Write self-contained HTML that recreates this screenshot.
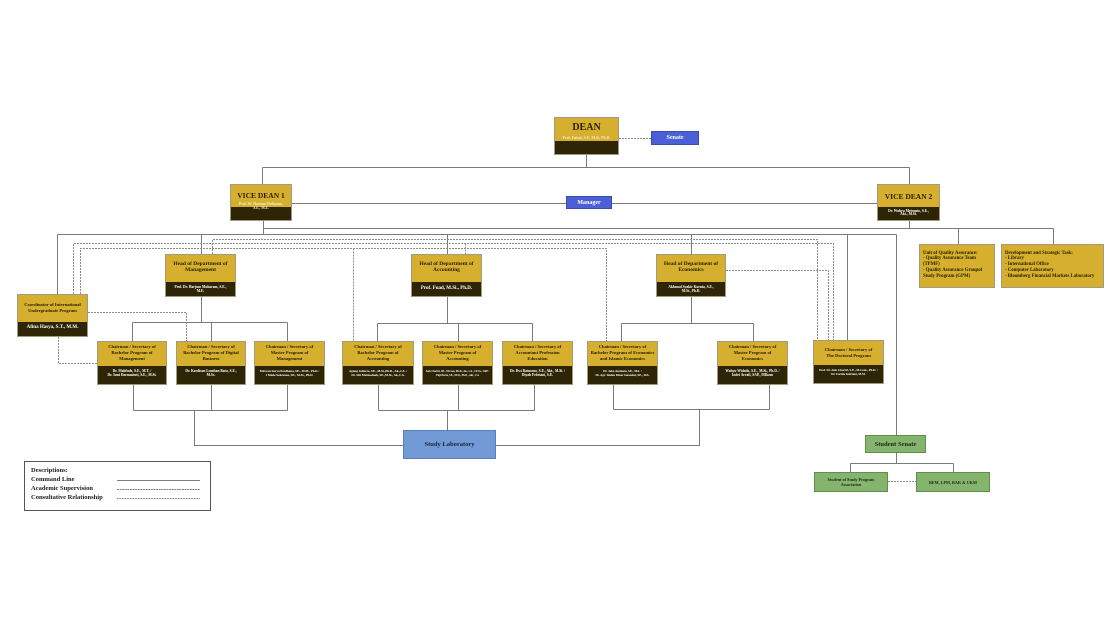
<!DOCTYPE html>
<html><head><meta charset="utf-8">
<style>
*{margin:0;padding:0;box-sizing:border-box}
body{width:1116px;height:628px;background:#fff;position:relative;overflow:hidden;font-family:"Liberation Serif","DejaVu Serif",serif;font-weight:bold}
svg{position:absolute;left:0;top:0}
.b{position:absolute;border:1px solid #a09a82}
.t{position:absolute;left:0;right:0;text-align:center;color:#2a2000;white-space:nowrap}
.n{position:absolute;left:0;right:0;text-align:center;color:#fff;white-space:nowrap}
.ch .t{top:2px;font-size:4.6px;line-height:5.8px}
.ch .n{top:26.6px;font-size:3.6px;line-height:4.8px}
.ch{top:341px;height:44px;width:71px;background:linear-gradient(#d5af2d 0 24px,#2e2507 24px)}
.hd{top:254px;height:43px;background:linear-gradient(#d5af2d 0 27px,#2e2507 27px)}
.hd .t{top:6px;font-size:5.5px;line-height:6px}
.hd .n{top:30px;font-size:3.6px;line-height:4px}
.bl{position:absolute;background:#4b5fd6;border:1px solid #3b4bb0;color:#fff;display:flex;align-items:center;justify-content:center;font-size:6px}
.gr{position:absolute;background:#84b46d;border:1px solid #5f8f4c;color:#1d2a10;display:flex;align-items:center;justify-content:center;text-align:center}
.q{position:absolute;background:#d5af2d;border:1px solid #a09a82;color:#2a2000;font-size:4.8px;line-height:5.8px;padding:5.5px 0 0 3px;white-space:nowrap}
</style></head><body>
<svg width="1116" height="628" viewBox="0 0 1116 628">
<g fill="none" stroke="#7a7a7a" stroke-width="1">
<path d="M586.5 155V167.5M262.5 167.5H909.5M262.5 167.5V184M909.5 167.5V184M292 203.5H566M612 203.5H877M263.5 221V234.5M263.5 228.5H1053.5M909.5 221V228.5M958.5 228.5V244M1053.5 228.5V244M57.5 234.5H896.5M57.5 234.5V294M201.5 234.5V254M447.5 234.5V254M691.5 234.5V254M847.5 234.5V340M896.5 234.5V435M201.5 297V322.5M132.5 322.5H287.5M132.5 322.5V341M211.5 322.5V341M287.5 322.5V341M133.5 385V410.5M211.5 385V410.5M287.5 385V410.5M133.5 410.5H287.5M194.5 410.5V445.5H403M447.5 297V323.5M377.5 323.5H532.5M377.5 323.5V341M458.5 323.5V341M532.5 323.5V341M378.5 385V410.5M458.5 385V410.5M534.5 385V410.5M378.5 410.5H534.5M447.5 410.5V430M691.5 297V323.5M621.5 323.5H753.5M621.5 323.5V341M753.5 323.5V341M613.5 385V409.5M769.5 385V409.5M613.5 409.5H769.5M699.5 409.5V445.5H496M896.5 453V463.5M850.5 463.5H953.5M850.5 463.5V472M953.5 463.5V472"/>
</g>
<g fill="none" stroke="#8c8c8c" stroke-width="1" stroke-dasharray="2,1">
<path d="M619 138.5H651M212.5 254V239.5H817.5V340M73.5 294V243.5H833.5V340M465.5 243.5V254M80.5 294V248.5H606.5V341M353.5 248.5V341M726 270.5H828.5V340M88 312.5H186.5V341M58.5 337V363.5H97M888 481.5H916"/>
</g>
<g fill="none" stroke="#555" stroke-width="0.8">
<path d="M117 480.5H200"/>
<path d="M117 489.5H200" stroke-dasharray="2,0.6"/>
<path d="M117 498.5H200" stroke-dasharray="1,0.6"/>
</g>
</svg>

<!-- DEAN -->
<div class="b" style="left:554px;top:117px;width:65px;height:38px;background:linear-gradient(#d5af2d 0 23px,#2e2507 23px)">
<div class="t" style="top:4px;font-size:10px;line-height:12px">DEAN</div>
<div class="n" style="top:17.5px;font-size:3.9px;line-height:5px;color:#f4ead0">Prof. Faisal, S.E, M.Si, Ph.D.</div>
</div>
<div class="bl" style="left:651px;top:131px;width:48px;height:14px">Senate</div>
<div class="bl" style="left:566px;top:196px;width:46px;height:13px">Manager</div>

<!-- VICE DEANS -->
<div class="b" style="left:230px;top:184px;width:62px;height:37px;background:linear-gradient(#d5af2d 0 22px,#2e2507 22px)">
<div class="t" style="top:5.5px;font-size:7.5px;line-height:9px">VICE DEAN 1</div>
<div class="n" style="top:16.5px;font-size:3.6px;line-height:4px;color:#f4ead0">Prof. Dr. Harjum Muharam,<br>S.E., M.E.</div>
</div>
<div class="b" style="left:877px;top:184px;width:63px;height:37px;background:linear-gradient(#d5af2d 0 22px,#2e2507 22px)">
<div class="t" style="top:6.5px;font-size:7.5px;line-height:9px">VICE DEAN 2</div>
<div class="n" style="top:24.5px;font-size:3.6px;line-height:3.8px">Dr. Wahyu Meiranto, S.E.,<br>Akt., M.Si.</div>
</div>

<div class="q" style="left:919px;top:244px;width:76px;height:44px">Unit of Quality Assurance:<br>- Quality Assurance Team<br>(TPMF)<br>- Quality Assurance Groupof<br>Study Program (GPM)</div>
<div class="q" style="left:1001px;top:244px;width:103px;height:44px">Development and Strategic Task:<br>- Library<br>- International Office<br>- Computer Laboratory<br>- Bloomberg Financial Markets Laboratory</div>

<!-- HEADS -->
<div class="b hd" style="left:165px;width:71px">
<div class="t">Head of Department of<br>Management</div>
<div class="n">Prof. Dr. Harjum Muharam, S.E.,<br>M.E.</div>
</div>
<div class="b hd" style="left:411px;width:71px">
<div class="t">Head of Department of<br>Accounting</div>
<div class="n" style="top:31px;font-size:5px;line-height:6px">Prof. Fuad, M.Si., Ph.D.</div>
</div>
<div class="b hd" style="left:656px;width:70px">
<div class="t">Head of Department of<br>Economics</div>
<div class="n">Akhmad Syakir Kurnia, S.E.,<br>M.Si., Ph.D.</div>
</div>

<!-- Coordinator -->
<div class="b" style="left:17px;top:294px;width:71px;height:43px;background:linear-gradient(#d5af2d 0 27px,#2e2507 27px)">
<div class="t" style="top:7px;font-size:4.6px;line-height:5.5px">Coordinator of International<br>Undergraduate Program</div>
<div class="n" style="top:30px;font-size:5px;line-height:6px">Afina Hasya, S.T., M.M.</div>
</div>

<!-- CHAIRMAN -->
<div class="b ch" style="left:97px;width:70px">
<div class="t">Chairman / Secretary of<br>Bachelor Program of<br>Management</div>
<div class="n">Dr. Mahfudz, S.E., M.T. /<br>Dr. Ismi Darmastuti, S.E., M.Si.</div>
</div>
<div class="b ch" style="left:176px;width:70px">
<div class="t">Chairman / Secretary of<br>Bachelor Program of Digital<br>Business</div>
<div class="n">Dr. Kardison Lumban Batu, S.E.,<br>M.Sc.</div>
</div>
<div class="b ch" style="left:254px">
<div class="t">Chairman / Secretary of<br>Master Program of<br>Management</div>
<div class="n" style="font-size:3.2px">Mirwan Surya Perdhana, SE., M.M., Ph.D /<br>I Made Sukresna, SE., M.Si., Ph.D.</div>
</div>
<div class="b ch" style="left:342px;width:72px">
<div class="t">Chairman / Secretary of<br>Bachelor Program of<br>Accounting</div>
<div class="n" style="font-size:3.2px">Agung Juliarto, SE., M.Si.,Ph.D., Ak.,CA. /<br>Dr. Siti Mutmainah, SE.,M.Si., Ak.,CA.</div>
</div>
<div class="b ch" style="left:422px">
<div class="t">Chairman / Secretary of<br>Master Program of<br>Accounting</div>
<div class="n" style="font-size:2.6px;line-height:3.6px;top:28px">Anis Chariri, SE., M.Com, Ph.D., Ak., CA., CFrA., CRP /<br>Puji Harto, SE., M.Si., Ph.D., Akt., CA</div>
</div>
<div class="b ch" style="left:502px">
<div class="t">Chairman / Secretary of<br>Accountant Profession<br>Education</div>
<div class="n">Dr. Dwi Ratmono, S.E., Akt., M.Si. /<br>Diyah Febriani, S.E.</div>
</div>
<div class="b ch" style="left:587px">
<div class="t">Chairman / Secretary of<br>Bachelor Program of Economics<br>and Islamic Economics</div>
<div class="n" style="font-size:3.1px">Dr. Jaka Aminata, SE., MA. /<br>Dr. Agr. Deden Dinar Iskandar, SE., MA.</div>
</div>
<div class="b ch" style="left:717px">
<div class="t">Chairman / Secretary of<br>Master Program of<br>Economics</div>
<div class="n">Wahyu Widodo, S.E., M.Si., Ph.D. /<br>Indri Arrafi, SAP., MIkom</div>
</div>
<div class="b ch" style="left:813px;top:340px">
<div class="t" style="top:6px">Chairman / Secretary of<br>The Doctoral Program</div>
<div class="n" style="font-size:3.1px">Prof. Dr. Anis Chariri, S.E., M.Com., Ph.D. /<br>Dr. Farida Indriani, M.M.</div>
</div>

<!-- Study lab -->
<div style="position:absolute;left:403px;top:430px;width:93px;height:29px;background:#729ad7;border:1px solid #5a7fb8;color:#1a2340;display:flex;align-items:center;justify-content:center;font-size:6.5px">Study Laboratory</div>

<!-- Student senate -->
<div class="gr" style="left:865px;top:435px;width:61px;height:18px;font-size:6.5px">Student Senate</div>
<div class="gr" style="left:814px;top:472px;width:74px;height:20px;font-size:4.2px;line-height:5px">Student of Study Program<br>Association</div>
<div class="gr" style="left:916px;top:472px;width:74px;height:20px;font-size:4.2px">BEM, LPM, BAK &amp; UKM</div>

<!-- Legend -->
<div style="position:absolute;left:24px;top:461px;width:187px;height:50px;border:1px solid #555;font-size:6.5px;line-height:9px;color:#1a1a1a;padding:4px 0 0 6px;white-space:nowrap">Descriptions:<br>Command Line<br>Academic Supervision<br>Consultative Relationship</div>
</body></html>
